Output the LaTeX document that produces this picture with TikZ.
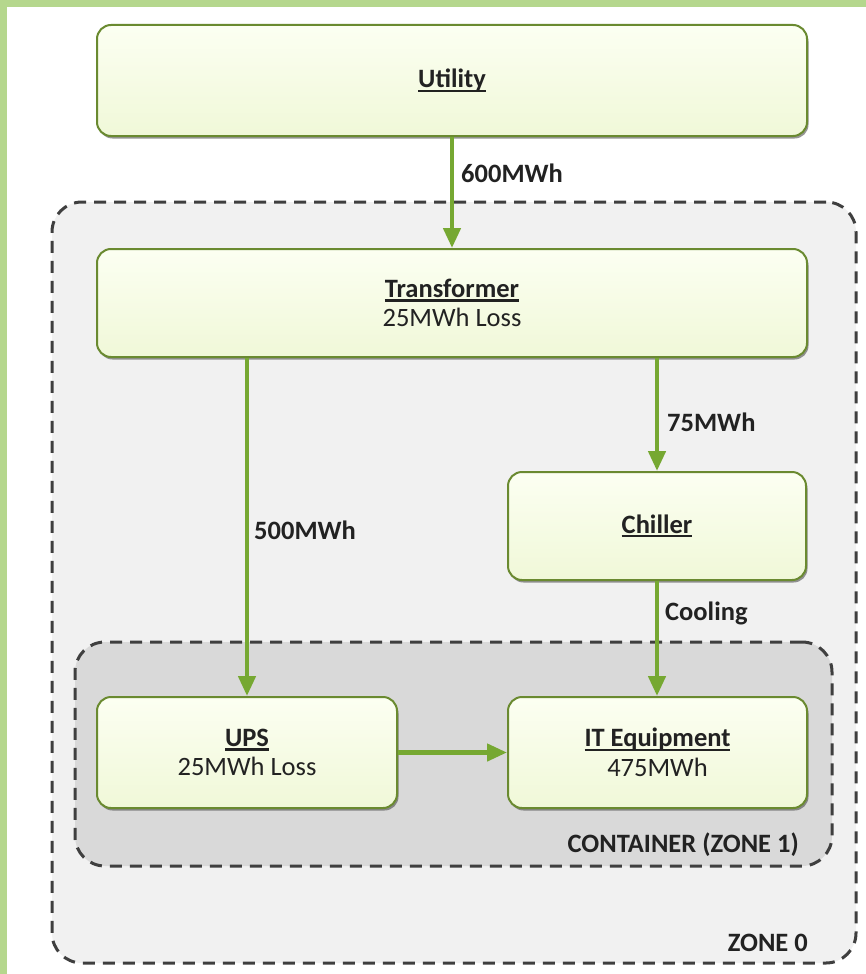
\documentclass[tikz,border=0pt]{standalone}
\usepackage{fontspec}
\setmainfont{Carlito}
\usetikzlibrary{arrows.meta,shadows}
\definecolor{frameg}{HTML}{B5D78D}
\definecolor{boxfill}{HTML}{F0F8D8}
\definecolor{boxtop}{HTML}{FCFFF2}
\definecolor{boxedge}{HTML}{6A8A30}
\definecolor{arrowg}{HTML}{76A832}
\definecolor{zonezero}{HTML}{F1F1F1}
\definecolor{zoneone}{HTML}{D9D9D9}
\definecolor{dashc}{HTML}{3F3F3F}
\definecolor{txt}{HTML}{222222}
\newcommand\ulbf[1]{\setbox0\hbox{\textbf{#1}}\rlap{\vrule width\wd0 height -2pt depth 4.2pt}\box0}
\tikzset{
  box/.style={draw=boxedge, line width=2pt, rounded corners=14pt,
    top color=boxtop, bottom color=boxfill, align=center, inner sep=0pt,
    text=txt, font=\fontsize{26.5}{29.5}\selectfont,
    drop shadow={shadow xshift=1.5pt, shadow yshift=-2.5pt, fill=black!75, opacity=0.55}},
  zone/.style={draw=dashc, line width=3pt, dash pattern=on 12pt off 8pt,
    rounded corners=30pt, inner sep=0pt},
  flow/.style={draw=arrowg, line width=4.5pt, -{Triangle[width=17pt,length=20pt]}},
  lbl/.style={inner sep=0pt, text=txt, font=\fontsize{26.5}{29.5}\selectfont\bfseries}
}
\begin{document}
\begin{tikzpicture}[x=1pt,y=-1pt]
\useasboundingbox (0,0) rectangle (866,974);
\fill[white] (0,0) rectangle (866,974);
\fill[frameg] (0,0) rectangle (866,7);
\fill[frameg] (0,0) rectangle (7,974);

\node[zone, fill=zonezero, minimum width=804pt, minimum height=761pt] (zone0) at (454,582.5) {};
\node[zone, fill=zoneone, minimum width=757pt, minimum height=224pt] (zone1) at (453.5,754) {};

\node[box, minimum width=710pt, minimum height=111pt] (util) at (452,80.5) {\ulbf{Utility}};
\node[box, minimum width=710pt, minimum height=108pt] (trans) at (452,303) {\ulbf{Transformer}\\25MWh Loss};
\node[box, minimum width=298pt, minimum height=108pt] (chiller) at (657,526) {\ulbf{Chiller}};
\node[box, minimum width=300pt, minimum height=111pt] (ups) at (247,752.5) {\ulbf{UPS}\\25MWh Loss};
\node[box, minimum width=299pt, minimum height=111pt] (it) at (657.5,752.5) {\ulbf{IT Equipment}\\475MWh};

\draw[flow] (util.south) -- (trans.north);
\draw[flow] (trans.south -| ups.north) -- (ups.north);
\draw[flow] (trans.south -| chiller.north) -- (chiller.north);
\draw[flow] (chiller.south) -- (chiller.south |- it.north);
\draw[flow] (ups.east) -- (it.west);

\node[lbl, anchor=west] (l600) at (461,173) {600MWh};
\node[lbl, anchor=west] (l75) at (667,422) {75MWh};
\node[lbl, anchor=west] (l500) at (254,530) {500MWh};
\node[lbl, anchor=west] (lcool) at (665,613) {Cooling};
\node[lbl, anchor=east] (lcont) at (799,845) {CONTAINER (ZONE 1)};
\node[lbl, anchor=east] (lz0) at (808,943) {ZONE 0};
\end{tikzpicture}
\end{document}
